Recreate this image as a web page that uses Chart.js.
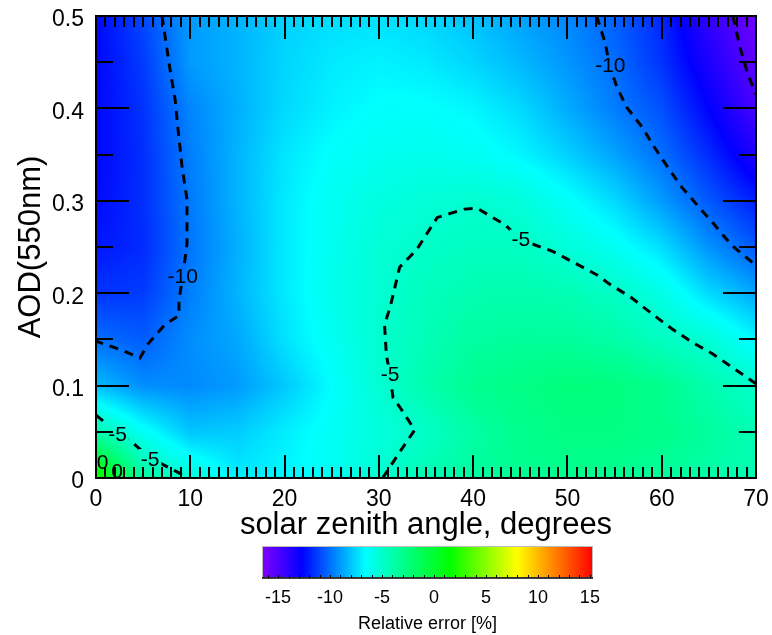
<!DOCTYPE html>
<html>
<head>
<meta charset="utf-8">
<script src="https://cdn.jsdelivr.net/npm/chart.js@4.4.0/dist/chart.umd.min.js"></script>
<style>
  html, body { margin: 0; padding: 0; background: #fff; }
  #wrap { position: relative; width: 772px; height: 635px; }
  #mainChart { position: absolute; left: 0; top: 0; }
  #barChart { position: absolute; left: 0; top: 530px; }
</style>
</head>
<body>
<div id="wrap">
  <canvas id="mainChart" width="772" height="545" style="width:772px;height:545px"></canvas>
  <canvas id="barChart" width="772" height="105" style="width:772px;height:105px"></canvas>
</div>
<script>
// grid of the relative error field
const sza = [0, 5, 10, 15, 20, 25, 30, 35, 40, 45, 50, 55, 60, 65, 70];
const aod = [0, 0.05, 0.1, 0.15, 0.2, 0.25, 0.3, 0.35, 0.4, 0.45, 0.5];

const err000 = [2.5, -3.5, -5.3, -7.0, -6.8, -6.2, -5.1, -4.2, -3.5, -3.1, -3.0, -3.1, -3.4, -3.8, -4.3];
const err005 = [-4.0, -6.3, -8.0, -7.8, -7.0, -6.3, -5.5, -4.85, -3.7, -3.0, -2.6, -2.6, -2.9, -3.5, -4.2];
const err010 = [-8.2, -9.3, -9.4, -9.0, -7.9, -6.6, -5.2, -4.0, -3.1, -2.7, -2.4, -2.5, -3.0, -4.0, -5.0];
const err015 = [-10.05, -10.5, -9.3, -8.7, -7.3, -6.2, -5.1, -4.3, -3.6, -3.4, -3.4, -3.8, -4.6, -5.3, -6.8];
const err020 = [-11.5, -11.3, -9.7, -8.4, -7.1, -6.0, -5.2, -4.5, -4.1, -4.0, -4.2, -4.8, -5.8, -7.5, -8.7];
const err025 = [-12.2, -11.7, -9.9, -8.5, -7.1, -6.1, -5.3, -4.9, -4.6, -4.7, -5.4, -6.2, -7.4, -9.2, -10.6];
const err030 = [-12.5, -11.6, -9.8, -8.4, -7.1, -6.2, -5.6, -5.3, -5.1, -5.4, -6.4, -7.5, -9.0, -10.6, -12.0];
const err035 = [-12.6, -11.6, -9.7, -8.4, -7.2, -6.5, -6.1, -6.0, -6.2, -6.8, -7.7, -8.8, -10.05, -11.7, -13.6];
const err040 = [-12.6, -11.5, -9.5, -8.5, -7.5, -6.9, -6.5, -6.5, -6.8, -7.5, -8.6, -9.7, -10.8, -12.7, -14.8];
const err045 = [-12.6, -11.3, -9.0, -8.4, -7.6, -7.1, -6.9, -7.1, -7.6, -8.3, -9.1, -10.1, -11.5, -13.5, -15.5];
const err050 = [-12.6, -11.0, -9.0, -8.4, -7.7, -7.4, -7.3, -7.6, -8.1, -8.8, -9.5, -10.4, -11.8, -14.2, -16.0];
const errGrid = [err000, err005, err010, err015, err020, err025, err030, err035, err040, err045, err050];

// contour lines [sza, aod]
const cntM10Left = [[7.0,0.5],[7.85,0.442],[8.4,0.409],[8.7,0.377],[9.1,0.339],[9.65,0.301],[9.65,0.254],
  [9.2,0.218],[8.8,0.193],[8.8,0.176],[7.3,0.166],[5.5,0.145],[4.67,0.130],[2.55,0.139],[0,0.148]];
const cntM10Right = [[53.1,0.5],[54.0,0.471],[54.5,0.445],[55.25,0.423],[56.3,0.401],[57.9,0.380],[59.1,0.360],
  [60.6,0.337],[62.1,0.315],[63.8,0.295],[65.6,0.274],[67.4,0.252],[70,0.230]];
const cntM15 = [[67.55,0.5],[68.3,0.466],[69.1,0.438],[70,0.415]];
const cntM5Main = [[30.4,0],[32.6,0.034],[33.8,0.052],[32.4,0.074],[31.5,0.087],[31.2,0.111],[30.8,0.133],
  [30.6,0.166],[31.2,0.185],[32.2,0.228],[34.0,0.247],[36.2,0.282],[39.1,0.291],[40.4,0.292],[43.4,0.274],
  [45.0,0.258],[48.5,0.245],[53.1,0.220],[54.3,0.211],[56.8,0.195],[58.8,0.179],[61.0,0.162],[63.2,0.147],
  [65.3,0.135],[67.45,0.120],[70,0.102]];
const cntM5Corner = [[0,0.068],[2.3,0.049],[3.8,0.039],[5.7,0.022],[8.9,0.005],[9.5,0]];

// contour labels
const labelText = ['-10', '-10', '-5', '-5', '-5', '-5', '0', '0'];
const labelSza = [9.2, 54.55, 45.07, 31.18, 2.28, 5.73, 0.69, 2.23];
const labelAod = [0.2186, 0.4464, 0.258, 0.112, 0.0476, 0.0206, 0.0168, 0.0076];

// colour bar
const cbarTicks = [-15, -10, -5, 0, 5, 10, 15];
const cmapVals = [-16.5, -12.7, -6.6, 1.5, 8, 15.3];
const cmapRGB = [[128,0,255],[0,0,255],[0,255,255],[0,255,0],[255,255,0],[255,0,0]];

const FONT = '"Liberation Sans", Arial, Helvetica, sans-serif';

function colorFor(v) {
  if (v <= cmapVals[0]) return cmapRGB[0];
  for (let i = 1; i < cmapVals.length; i++) {
    if (v <= cmapVals[i]) {
      const t = (v - cmapVals[i-1]) / (cmapVals[i] - cmapVals[i-1]);
      const a = cmapRGB[i-1], b = cmapRGB[i];
      return [a[0] + t*(b[0]-a[0]), a[1] + t*(b[1]-a[1]), a[2] + t*(b[2]-a[2])];
    }
  }
  return cmapRGB[cmapRGB.length - 1];
}

function cellIndex(arr, v) {
  let i = 0;
  while (i < arr.length - 2 && v > arr[i+1]) i++;
  return i;
}

function fieldAt(x, y) {
  const i = cellIndex(sza, x), j = cellIndex(aod, y);
  const tx = Math.min(1, Math.max(0, (x - sza[i]) / (sza[i+1] - sza[i])));
  const ty = Math.min(1, Math.max(0, (y - aod[j]) / (aod[j+1] - aod[j])));
  const lo = errGrid[j][i] + tx * (errGrid[j][i+1] - errGrid[j][i]);
  const hi = errGrid[j+1][i] + tx * (errGrid[j+1][i+1] - errGrid[j+1][i]);
  return lo + ty * (hi - lo);
}

function toPoints(arr) {
  return arr.map(p => ({ x: p[0], y: p[1] }));
}

function labelBox(chart, k) {
  const ctx = chart.ctx;
  ctx.font = '21px ' + FONT;
  const w = ctx.measureText(labelText[k]).width + 4;
  const px = chart.scales.x.getPixelForValue(labelSza[k]);
  const py = chart.scales.y.getPixelForValue(labelAod[k]);
  return { px, py, x: px - w / 2, y: py - 10, w, h: 20 };
}

const fieldPlugin = {
  id: 'field',
  beforeDatasetsDraw(chart) {
    const { ctx, chartArea: a, scales: { x, y } } = chart;
    const w = Math.round(a.right - a.left), h = Math.round(a.bottom - a.top);
    const img = ctx.createImageData(w, h);
    for (let py = 0; py < h; py++) {
      const yv = y.getValueForPixel(a.top + py + 0.5);
      for (let px = 0; px < w; px++) {
        const c = colorFor(fieldAt(x.getValueForPixel(a.left + px + 0.5), yv));
        const k = (py * w + px) * 4;
        img.data[k] = c[0]; img.data[k+1] = c[1]; img.data[k+2] = c[2]; img.data[k+3] = 255;
      }
    }
    ctx.putImageData(img, Math.round(a.left), Math.round(a.top));

    // keep the dashed lines out of the label boxes
    ctx.save();
    ctx.beginPath();
    ctx.rect(a.left, a.top, a.right - a.left, a.bottom - a.top);
    for (let k = 0; k < labelText.length; k++) {
      const b = labelBox(chart, k);
      ctx.rect(b.x, b.y, b.w, b.h);
    }
    ctx.clip('evenodd');
  },
  afterDatasetsDraw(chart) {
    const ctx = chart.ctx;
    ctx.restore();
    ctx.save();
    ctx.fillStyle = '#000';
    ctx.font = '21px ' + FONT;
    ctx.textAlign = 'center';
    ctx.textBaseline = 'middle';
    for (let k = 0; k < labelText.length; k++) {
      const b = labelBox(chart, k);
      ctx.fillText(labelText[k], b.px, b.py + 1);
    }
    ctx.restore();
  }
};

const framePlugin = {
  id: 'frame',
  afterDraw(chart) {
    const { ctx, chartArea: a, scales: { x, y } } = chart;
    ctx.save();
    ctx.strokeStyle = '#000';
    ctx.lineWidth = 2;
    ctx.beginPath();
    for (let v = x.min; v <= x.max + 1e-9; v += 1) {
      const px = Math.round(x.getPixelForValue(v));
      const len = Math.round(v) % 10 === 0 ? 23 : 11;
      ctx.moveTo(px, a.bottom); ctx.lineTo(px, a.bottom - len);
      ctx.moveTo(px, a.top); ctx.lineTo(px, a.top + len);
    }
    for (let i = 0; i <= 10; i++) {
      const py = Math.round(y.getPixelForValue(y.min + i * 0.05));
      const len = i % 2 === 0 ? 33 : 17;
      ctx.moveTo(a.left, py); ctx.lineTo(a.left + len, py);
      ctx.moveTo(a.right, py); ctx.lineTo(a.right - len, py);
    }
    ctx.stroke();
    ctx.strokeRect(a.left, a.top, a.right - a.left, a.bottom - a.top);
    ctx.restore();
  }
};

const contourStyle = {
  showLine: true, pointRadius: 0, borderColor: '#000', borderWidth: 3,
  borderDash: [9, 7], fill: false, tension: 0
};

new Chart(document.getElementById('mainChart'), {
  type: 'scatter',
  data: {
    datasets: [
      { label: '-10', data: toPoints(cntM10Left), ...contourStyle },
      { label: '-10', data: toPoints(cntM10Right), ...contourStyle },
      { label: '-15', data: toPoints(cntM15), ...contourStyle },
      { label: '-5', data: toPoints(cntM5Main), ...contourStyle },
      { label: '-5', data: toPoints(cntM5Corner), ...contourStyle }
    ]
  },
  options: {
    responsive: false,
    animation: false,
    events: [],
    layout: { padding: { left: 0, top: 16, right: 16, bottom: 0 } },
    plugins: { legend: { display: false }, tooltip: { enabled: false } },
    scales: {
      x: {
        type: 'linear', min: 0, max: 70,
        afterFit(s) { s.height = 67; s.paddingLeft = 0; s.paddingRight = 0; },
        grid: { display: false, drawTicks: false },
        border: { display: false },
        ticks: { stepSize: 10, padding: 8, maxRotation: 0, color: '#000', font: { family: FONT, size: 23 } },
        title: {
          display: true, text: 'solar zenith angle, degrees', color: '#000',
          font: { family: FONT, size: 31 }, padding: { top: 0, bottom: 1 }
        }
      },
      y: {
        type: 'linear', min: 0, max: 0.5,
        afterFit(s) { s.width = 96; s.paddingTop = 0; s.paddingBottom = 0; },
        grid: { display: false, drawTicks: false },
        border: { display: false },
        ticks: {
          stepSize: 0.1, padding: 12, labelOffset: 4, color: '#000', font: { family: FONT, size: 23 },
          callback: v => (v === 0 ? '0' : v.toFixed(1))
        },
        title: {
          display: true, text: 'AOD(550nm)', color: '#000',
          font: { family: FONT, size: 31 }, padding: { top: 13, bottom: 0 }
        }
      }
    }
  },
  plugins: [fieldPlugin, framePlugin]
});

const cbarPlugin = {
  id: 'cbar',
  beforeDatasetsDraw(chart) {
    const { ctx, chartArea: a, scales: { x } } = chart;
    for (let px = Math.floor(a.left); px < a.right; px++) {
      const c = colorFor(x.getValueForPixel(px + 0.5));
      ctx.fillStyle = 'rgb(' + c.map(Math.round).join(',') + ')';
      ctx.fillRect(px, a.top, 1, a.bottom - a.top);
    }
    ctx.save();
    ctx.strokeStyle = '#bbb';
    ctx.lineWidth = 1;
    ctx.strokeRect(a.left + 0.5, a.top + 0.5, a.right - a.left - 1, a.bottom - a.top - 1);
    ctx.strokeStyle = '#000';
    ctx.lineWidth = 1.5;
    ctx.beginPath();
    ctx.moveTo(a.left, a.bottom); ctx.lineTo(a.right, a.bottom);
    ctx.stroke();
    ctx.lineWidth = 1;
    ctx.beginPath();
    for (let v = Math.ceil(x.min); v <= x.max; v++) {
      const px = Math.round(x.getPixelForValue(v)) + 0.5;
      ctx.moveTo(px, a.bottom); ctx.lineTo(px, a.bottom - 3);
    }
    ctx.stroke();
    ctx.restore();
  }
};

new Chart(document.getElementById('barChart'), {
  type: 'scatter',
  data: { datasets: [] },
  options: {
    responsive: false,
    animation: false,
    events: [],
    layout: { padding: { left: 262, right: 179, top: 16, bottom: 0 } },
    plugins: { legend: { display: false }, tooltip: { enabled: false } },
    scales: {
      x: {
        type: 'linear', min: -16.55, max: 15.3,
        afterFit(s) { s.height = 57; s.paddingLeft = 0; s.paddingRight = 0; },
        afterBuildTicks(s) { s.ticks = cbarTicks.map(v => ({ value: v })); },
        grid: { display: false, drawTicks: false },
        border: { display: false },
        ticks: { padding: 9, maxRotation: 0, autoSkip: false, color: '#000', font: { family: FONT, size: 18 } },
        title: {
          display: true, text: 'Relative error [%]', color: '#000',
          font: { family: FONT, size: 18 }, padding: { top: 0, bottom: 0 }
        }
      },
      y: { display: false, min: 0, max: 1 }
    }
  },
  plugins: [cbarPlugin]
});
</script>
</body>
</html>
